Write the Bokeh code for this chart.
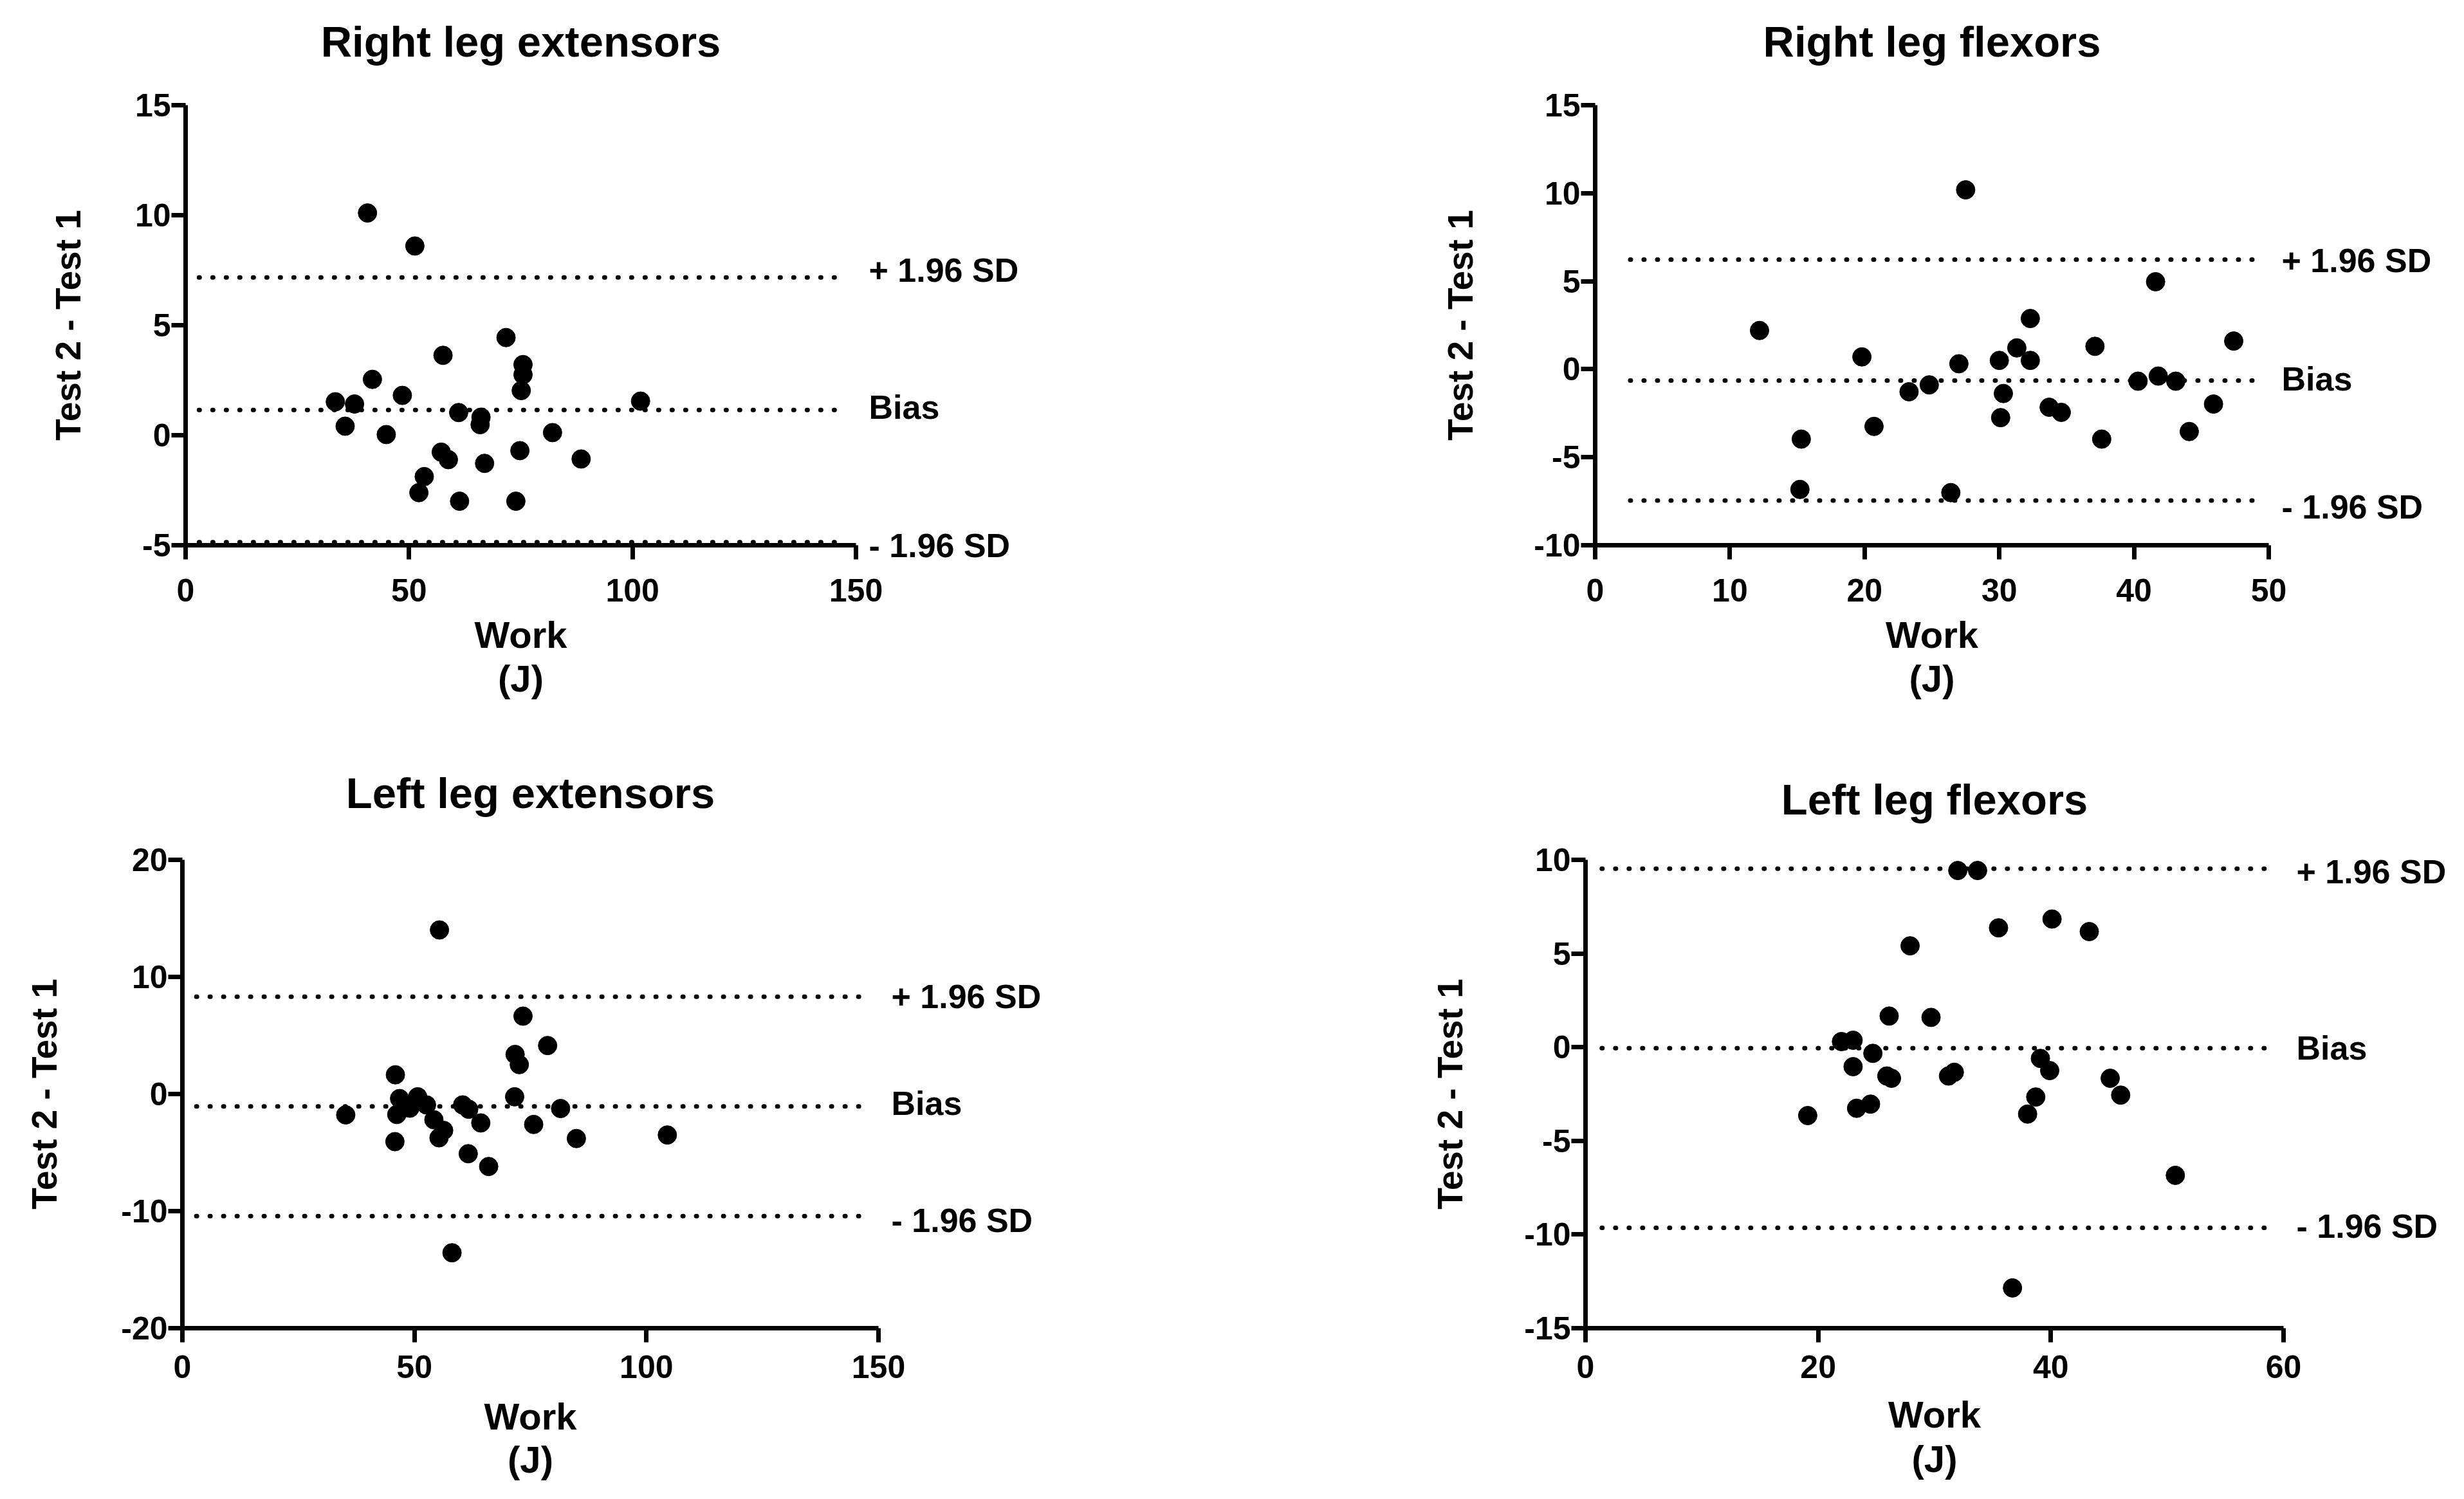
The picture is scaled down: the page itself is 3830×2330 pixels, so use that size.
from bokeh.plotting import figure
from bokeh.models import (Range1d, Title, FixedTicker, LinearAxis,
                          CustomJSTickFormatter)
from bokeh.layouts import column, row
from bokeh.embed import file_html
from bokeh.resources import INLINE

FONT = "Liberation Sans"

# ---------------- data ----------------
titles = ["Right leg extensors", "Right leg flexors", "Left leg extensors", "Left leg flexors"]

rle_work = [40.7, 51.3, 71.7, 57.6, 75.5, 75.5, 41.8, 75.1, 48.5, 33.5, 101.8, 37.8, 61.1, 66.1,
            65.9, 35.7, 44.9, 82.1, 57.2, 58.8, 66.9, 74.8, 88.5, 53.4, 52.2, 61.3, 73.9]
rle_diff = [10.1, 8.6, 4.44, 3.63, 3.21, 2.75, 2.54, 2.03, 1.81, 1.52, 1.55, 1.42, 1.03, 0.82,
            0.48, 0.41, 0.03, 0.12, -0.77, -1.11, -1.28, -0.70, -1.08, -1.88, -2.61, -3.00, -3.00]

rlf_work = [27.5, 41.6, 12.2, 32.3, 47.4, 31.3, 37.1, 19.8, 30.0, 32.3, 27.0, 40.3, 41.8, 43.1,
            24.8, 23.3, 30.3, 45.9, 33.7, 34.6, 30.1, 20.7, 44.1, 15.3, 37.6, 15.2, 26.4]
rlf_diff = [10.19, 4.97, 2.20, 2.88, 1.60, 1.21, 1.30, 0.70, 0.50, 0.50, 0.31, -0.68, -0.39, -0.68,
            -0.89, -1.28, -1.38, -1.98, -2.16, -2.45, -2.75, -3.25, -3.54, -3.97, -3.97, -6.83, -7.01]

lle_work = [55.4, 73.4, 78.7, 71.7, 72.6, 45.9, 46.8, 50.7, 52.6, 49.0, 46.2, 35.2, 60.4, 61.7,
            71.6, 81.5, 75.7, 64.3, 54.2, 56.3, 55.3, 45.8, 84.9, 61.6, 66.0, 104.5, 58.1]
lle_diff = [14.01, 6.65, 4.14, 3.38, 2.51, 1.64, -0.39, -0.24, -0.93, -1.21, -1.75, -1.78, -0.93, -1.30,
            -0.24, -1.24, -2.60, -2.47, -2.20, -3.11, -3.74, -4.07, -3.80, -5.10, -6.19, -3.50, -13.56]

llf_work = [32.0, 33.7, 40.1, 35.5, 43.3, 27.9, 26.1, 29.7, 22.0, 23.0, 24.7, 39.1, 39.9, 23.0,
            25.9, 26.3, 31.7, 31.2, 45.1, 46.0, 38.7, 24.5, 23.3, 19.1, 38.0, 50.7, 36.7]
llf_diff = [9.43, 9.43, 6.84, 6.37, 6.17, 5.41, 1.66, 1.59, 0.30, 0.37, -0.33, -0.60, -1.25, -1.04,
            -1.54, -1.66, -1.34, -1.54, -1.66, -2.56, -2.66, -3.04, -3.26, -3.65, -3.57, -6.84, -12.85]

# limits of agreement and bias (upper, bias, lower)
rle_lines = [7.17, 1.15, -4.86]
rlf_lines = [6.23, -0.64, -7.46]
lle_lines = [8.31, -1.06, -10.43]
llf_lines = [9.53, -0.05, -9.64]
line_names = ["+ 1.96 SD", "Bias", "- 1.96 SD"]

# x-extent of the reference lines
rle_span = [3.0, 147.3]
rlf_span = [2.6, 49.2]
lle_span = [3.0, 147.3]
llf_span = [1.4, 59.0]

# axis ticks (first/last = axis range)
rle_xticks = [0, 50, 100, 150]
rle_yticks = [-5, 0, 5, 10, 15]
rlf_xticks = [0, 10, 20, 30, 40, 50]
rlf_yticks = [-10, -5, 0, 5, 10, 15]
lle_xticks = [0, 50, 100, 150]
lle_yticks = [-20, -10, 0, 10, 20]
llf_xticks = [0, 20, 40, 60]
llf_yticks = [-15, -10, -5, 0, 5, 10]

x_label = "Work"
x_unit = "(J)"
y_label = "Test 2 - Test 1"

# screen-pixel nudges of the line names relative to their lines (up is +)
rle_nudge = [11, 4, -9]
rlf_nudge = [-2, 2, -10]
lle_nudge = [0, 5, -7]
llf_nudge = [-5, 0, 2]

NAME_CODE = """
let best = 0;
let d = Infinity;
for (let i = 0; i < vals.length; i++) {
    const e = Math.abs(vals[i] - tick);
    if (e < d) { d = e; best = i; }
}
return names[best];
"""


def style_text_axis(ax, size):
    ax.major_label_text_font = FONT
    ax.major_label_text_font_size = size
    ax.major_label_text_font_style = "bold"
    ax.major_label_text_color = "black"


def make_panel(title, xs, ys, lines, nudge, span, xticks, yticks, width, height,
               bl, br, bt, bb, ylab_standoff, title_gap, xtick_standoff, xlab_standoff,
               unit_standoff):
    p = figure(width=width, height=height, output_backend="svg", toolbar_location=None,
               x_range=Range1d(xticks[0], xticks[-1]), y_range=Range1d(yticks[0], yticks[-1]),
               min_border_left=bl, min_border_right=br, min_border_top=bt, min_border_bottom=bb,
               background_fill_color="white", border_fill_color="white", title=None)
    p.outline_line_color = None
    p.grid.visible = False

    # blank spacer next to the frame, then the title above it
    p.add_layout(Title(text=" ", text_font_size="1px", text_color="white",
                       standoff=title_gap - 3), "above")
    p.add_layout(Title(text=title, align="center", text_font=FONT, text_font_size="67px",
                       text_font_style="bold", text_color="black", standoff=0), "above")

    for ax, ticks in ((p.xaxis[0], xticks), (p.yaxis[0], yticks)):
        ax.ticker = FixedTicker(ticks=ticks)
        ax.major_label_overrides = {t: str(t) for t in ticks}
        ax.axis_line_width = 7
        ax.axis_line_color = "black"
        ax.major_tick_line_width = 7
        ax.major_tick_line_color = "black"
        ax.major_tick_out = 22
        ax.major_tick_in = 0
        ax.minor_tick_line_color = None
        style_text_axis(ax, "50px")
        ax.axis_label_text_font = FONT
        ax.axis_label_text_font_style = "bold"
        ax.axis_label_text_color = "black"

    p.xaxis[0].major_label_standoff = xtick_standoff
    p.yaxis[0].major_label_standoff = 1
    p.xaxis[0].axis_label = x_label
    p.xaxis[0].axis_label_text_font_size = "58px"
    p.xaxis[0].axis_label_standoff = xlab_standoff
    p.yaxis[0].axis_label = y_label
    p.yaxis[0].axis_label_text_font_size = "55px"
    p.yaxis[0].axis_label_standoff = ylab_standoff

    p.add_layout(Title(text=x_unit, align="center", text_font=FONT, text_font_size="58px",
                       text_font_style="bold", text_color="black", standoff=unit_standoff),
                 "below")

    # names of the reference lines, written beside the plot at their heights
    frame_h = height - bt - bb
    px_per_unit = frame_h / (yticks[-1] - yticks[0])
    name_pos = [min(max(v + n / px_per_unit, yticks[0]), yticks[-1])
                for v, n in zip(lines, nudge)]
    names_axis = LinearAxis(
        ticker=FixedTicker(ticks=name_pos),
        formatter=CustomJSTickFormatter(args=dict(vals=name_pos, names=line_names), code=NAME_CODE),
    )
    names_axis.axis_line_color = None
    names_axis.major_tick_line_color = None
    names_axis.minor_tick_line_color = None
    names_axis.major_tick_out = 0
    names_axis.major_tick_in = 0
    names_axis.major_label_standoff = 20
    style_text_axis(names_axis, "52px")
    p.add_layout(names_axis, "right")

    for val in lines:
        p.line(x=span, y=[val, val], line_color="black", line_width=7,
               line_dash="1 20", line_cap="round")

    p.scatter(xs, ys, size=29, color="black", marker="circle")
    return p


W1, W2 = 1900, 1914
H1, H2 = 1165, 1149

p1 = make_panel(titles[0], rle_work, rle_diff, rle_lines, rle_nudge, rle_span, rle_xticks, rle_yticks,
                W1, H1, 288, 570, 163, 318, 70, 62, 30, 16, -4)
p2 = make_panel(titles[1], rlf_work, rlf_diff, rlf_lines, rlf_nudge, rlf_span, rlf_xticks, rlf_yticks,
                W2, H1, 579, 288, 163, 318, 80, 62, 30, 16, -4)
p3 = make_panel(titles[2], lle_work, lle_diff, lle_lines, lle_nudge, lle_span, lle_xticks, lle_yticks,
                W1, H2, 283, 535, 171, 250, 85, 67, 20, 24, -5)
p4 = make_panel(titles[3], llf_work, llf_diff, llf_lines, llf_nudge, llf_span, llf_xticks, llf_yticks,
                W2, H2, 564, 265, 171, 250, 81, 57, 20, 21, -2)

layout = column(row(p1, p2, spacing=0), row(p3, p4, spacing=0), spacing=0)

open("out.html", "w").write(file_html(layout, INLINE))
